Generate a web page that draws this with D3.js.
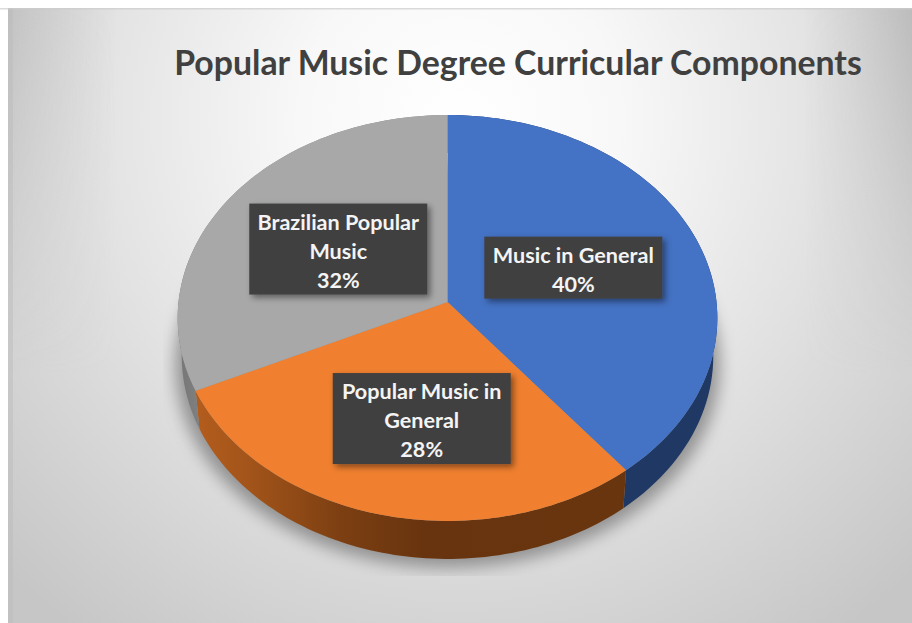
<!DOCTYPE html>
<html><head><meta charset="utf-8">
<script src="https://cdn.jsdelivr.net/npm/d3@7"></script>
<style>html,body{margin:0;padding:0;background:#fff}svg{display:block}text{font-family:Lato,sans-serif}</style>
</head><body><svg id="c" width="912" height="623"></svg>
<script>
const chartTitle = "Popular Music Degree Curricular Components";
const categories = ["Music in General", "Popular Music in General", "Brazilian Popular Music"];
const shares = [40, 28, 32];
const labelLines = [["Music in General"], ["Popular Music in", "General"], ["Brazilian Popular", "Music"]];
const faceColors = ["#4472c4", "#f0802f", "#a8a8a8"];

const W = 912, H = 623;
const svg = d3.select("#c");
const defs = svg.append("defs");

// background
const bg = defs.append("radialGradient").attr("id", "bg").attr("gradientUnits", "userSpaceOnUse")
  .attr("cx", 460).attr("cy", 120).attr("r", 640);
[[0, "#ffffff"], [.25, "#f8f8f8"], [.58, "#e2e2e2"], [1, "#c6c6c6"]].forEach(s => bg.append("stop").attr("offset", s[0]).attr("stop-color", s[1]));
const edge = defs.append("linearGradient").attr("id", "edge");
[[0, "#b0b0b0", .55], [.12, "#b8b8b8", 0], [.88, "#b8b8b8", 0], [1, "#a8a8a8", .6]].forEach(s => edge.append("stop").attr("offset", s[0]).attr("stop-color", s[1]).attr("stop-opacity", s[2]));
const fade = defs.append("linearGradient").attr("id", "fade").attr("x1", 0).attr("x2", 0).attr("y1", 0).attr("y2", 1);
fade.append("stop").attr("offset", 0).attr("stop-color", "#fff").attr("stop-opacity", 1);
fade.append("stop").attr("offset", .6).attr("stop-color", "#fff").attr("stop-opacity", 0);
const edgeMask = defs.append("mask").attr("id", "edgeMask");
edgeMask.append("rect").attr("width", W).attr("height", H).attr("fill", "url(#fade)");

svg.append("rect").attr("x", 8).attr("y", 8).attr("width", W - 8).attr("height", H - 8).attr("fill", "url(#bg)");
svg.append("rect").attr("x", 8).attr("y", 8).attr("width", W - 8).attr("height", H - 8).attr("fill", "url(#edge)").attr("mask", "url(#edgeMask)");
svg.append("rect").attr("x", 8).attr("y", 8).attr("width", 5).attr("height", H - 8).attr("fill", "#bbb").attr("opacity", .45);
svg.append("rect").attr("x", 0).attr("y", 8).attr("width", W).attr("height", 1.5).attr("fill", "#ccc").attr("opacity", .7);

// title
svg.append("text").attr("x", 518).attr("y", 75).attr("text-anchor", "middle")
  .attr("font-size", 33.8).attr("font-weight", 700).attr("fill", "#404040").text(chartTitle);

// perspective projection of the unit pie disc
const apexX = 447.5, apexY = 302, A = 201.7, B = 269, P = 0.0788, depth = 38, shrink = 0.985, warp = 0.075;
function project(theta, r = 1) {
  const t = theta - warp * Math.max(0, Math.sin(theta));
  const u = r * Math.sin(t), v = -r * Math.cos(t), d = 1 - P * v;
  return [apexX + B * u / d, apexY + A * v / d];
}
const lower = p => [apexX + (p[0] - apexX) * shrink, p[1] + depth];
const pieGen = d3.pie().sort(null).value(d => d);
const slices = pieGen(shares);
const line = d3.line();
const arcPts = (a0, a1) => d3.range(0, 81).map(i => a0 + (a1 - a0) * i / 80);

// shadow
defs.append("filter").attr("id", "blur").attr("x", "-20%").attr("y", "-20%").attr("width", "140%").attr("height", "140%")
  .append("feGaussianBlur").attr("stdDeviation", 8);
defs.append("clipPath").attr("id", "shadowClip").append("rect").attr("x", 163).attr("y", 110).attr("width", 572).attr("height", 466);
const rim = arcPts(0, 2 * Math.PI).map(t => lower(project(t)));
svg.append("g").attr("clip-path", "url(#shadowClip)")
  .append("path").attr("d", line(rim.map(p => [apexX + (p[0] - apexX) * 1.025, p[1] + 9])) + "Z")
  .attr("fill", "#858585").attr("opacity", .85).attr("filter", "url(#blur)");

// side wall gradients
function sideGrad(id, stops) {
  const g = defs.append("linearGradient").attr("id", id).attr("gradientUnits", "userSpaceOnUse").attr("x1", 180).attr("x2", 720).attr("y1", 0).attr("y2", 0);
  stops.forEach(s => g.append("stop").attr("offset", s[0]).attr("stop-color", s[1]));
}
sideGrad("side0", [[0, "#1f3864"], [1, "#1f3864"]]);
sideGrad("side1", [[0, "#b85f1e"], [.12, "#a4551a"], [.3, "#7c3f12"], [.45, "#68340f"], [1, "#6a360f"]]);
sideGrad("side2", [[0, "#777"], [.08, "#8a8a8a"], [1, "#8a8a8a"]]);

const g = svg.append("g");
slices.forEach((s, i) => {
  const ts = arcPts(s.startAngle, s.endAngle);
  const top = ts.map(t => project(t));
  const bot = top.map(lower).reverse();
  g.append("path").attr("d", line(top.concat(bot)) + "Z").attr("fill", `url(#side${i})`);
});
slices.forEach((s, i) => {
  const ts = arcPts(s.startAngle, s.endAngle);
  g.append("path").attr("d", line([[apexX, apexY]].concat(ts.map(t => project(t)))) + "Z")
    .attr("fill", faceColors[i]);
});

// labels
defs.append("filter").attr("id", "boxShadow").attr("x", "-10%").attr("y", "-15%").attr("width", "125%").attr("height", "135%")
  .append("feDropShadow").attr("dx", 3).attr("dy", 3).attr("stdDeviation", 3).attr("flood-color", "#000").attr("flood-opacity", .45);
const nudges = [[3, 3], [9, 15], [2, 0]];
const lineH = 29, boxW = 178;
slices.forEach((s, i) => {
  const mid = (s.startAngle + s.endAngle) / 2;
  const c = project(mid, .5);
  const cx = c[0] + nudges[i][0], cy = c[1] + nudges[i][1];
  const lines = labelLines[i].concat([shares[i] + "%"]);
  const h = lines.length * lineH + 4;
  const lg = svg.append("g").attr("class", "label").attr("data-category", categories[i]);
  lg.append("rect").attr("x", cx - boxW / 2).attr("y", cy - h / 2).attr("width", boxW).attr("height", h)
    .attr("fill", "#404040").attr("filter", "url(#boxShadow)");
  lines.forEach((t, k) => lg.append("text").attr("x", cx).attr("y", cy - h / 2 + 26 + k * lineH)
    .attr("text-anchor", "middle").attr("font-size", 21.6).attr("font-weight", 700).attr("fill", "#f4f4f4").text(t));
});
</script></body></html>
